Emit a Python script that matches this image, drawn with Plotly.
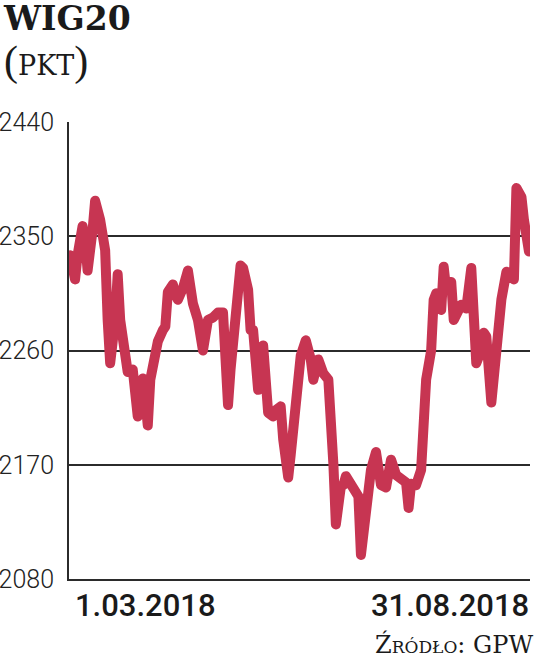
import plotly.graph_objects as go

dates = [
    "2018-03-01", "2018-03-03", "2018-03-04", "2018-03-06", "2018-03-07", "2018-03-08",
    "2018-03-10", "2018-03-11", "2018-03-13", "2018-03-15", "2018-03-16", "2018-03-17",
    "2018-03-19", "2018-03-20", "2018-03-21", "2018-03-23", "2018-03-24", "2018-03-26",
    "2018-03-28", "2018-03-29", "2018-03-30", "2018-03-31", "2018-04-01", "2018-04-02",
    "2018-04-04", "2018-04-05", "2018-04-07", "2018-04-08", "2018-04-09", "2018-04-11",
    "2018-04-12", "2018-04-13", "2018-04-15", "2018-04-17", "2018-04-19", "2018-04-21",
    "2018-04-23", "2018-04-25", "2018-04-27", "2018-04-28", "2018-04-29", "2018-05-01",
    "2018-05-03", "2018-05-04", "2018-05-06", "2018-05-08", "2018-05-09", "2018-05-11",
    "2018-05-12", "2018-05-13", "2018-05-15", "2018-05-17", "2018-05-19", "2018-05-21",
    "2018-05-22", "2018-05-24", "2018-05-25", "2018-05-27", "2018-05-28", "2018-05-30",
    "2018-06-01", "2018-06-03", "2018-06-05", "2018-06-06", "2018-06-08", "2018-06-10",
    "2018-06-12", "2018-06-14", "2018-06-15", "2018-06-17", "2018-06-18", "2018-06-19",
    "2018-06-21", "2018-06-22", "2018-06-24", "2018-06-25", "2018-06-27", "2018-06-29",
    "2018-07-01", "2018-07-03", "2018-07-05", "2018-07-07", "2018-07-09", "2018-07-11",
    "2018-07-13", "2018-07-14", "2018-07-15", "2018-07-17", "2018-07-19", "2018-07-21",
    "2018-07-23", "2018-07-24", "2018-07-25", "2018-07-27", "2018-07-28", "2018-07-29",
    "2018-07-31", "2018-08-01", "2018-08-03", "2018-08-04", "2018-08-06", "2018-08-08",
    "2018-08-10", "2018-08-12", "2018-08-13", "2018-08-14", "2018-08-16", "2018-08-17",
    "2018-08-19", "2018-08-20", "2018-08-22", "2018-08-23", "2018-08-25", "2018-08-26",
    "2018-08-28", "2018-08-29", "2018-08-31",
]

wig20 = [
    2335, 2316, 2335, 2358, 2347, 2323,
    2355, 2378, 2363, 2339, 2284, 2250,
    2284, 2320, 2284, 2260, 2243, 2245,
    2208, 2225, 2238, 2221, 2201, 2237,
    2256, 2267, 2276, 2279, 2306, 2312,
    2304, 2300, 2309, 2323, 2297, 2284,
    2260, 2284, 2286, 2290, 2290, 2290,
    2217, 2245, 2290, 2327, 2325, 2308,
    2276, 2276, 2229, 2264, 2211, 2208,
    2213, 2216, 2190, 2160, 2178, 2211,
    2256, 2268, 2253, 2237, 2253, 2242,
    2237, 2171, 2123, 2153, 2154, 2161,
    2154, 2153, 2145, 2099, 2134, 2166,
    2180, 2154, 2152, 2174, 2162, 2160,
    2156, 2136, 2155, 2154, 2166, 2237,
    2260, 2300, 2305, 2292, 2326, 2308,
    2314, 2284, 2295, 2296, 2293, 2325,
    2250, 2260, 2274, 2271, 2219, 2245,
    2272, 2300, 2322, 2320, 2316, 2388,
    2381, 2363, 2338,
]

y_ticks = [2080, 2170, 2260, 2350, 2440]
x_label_dates = ["2018-03-01", "2018-08-31"]
x_labels = ["1.03.2018", "31.08.2018"]
title = "WIG20"
unit = "PKT"
source = "Źródło: GPW"

LINE = "#C73552"
DARK = "#2b2b2b"

fig = go.Figure()
fig.add_trace(go.Scatter(
    x=dates, y=wig20, mode="lines",
    line=dict(color=LINE, width=10),
    hoverinfo="skip", showlegend=False,
))

L, R, T, B = 69, 6, 122, 81
W, H = 536, 660
pw, ph = W - L - R, H - T - B

def px(xp):
    return (xp - L) / pw

def py(yp):
    return (H - B - yp) / ph

fig.update_layout(
    width=W, height=H,
    margin=dict(l=L, r=R, t=T, b=B, pad=0, autoexpand=False),
    paper_bgcolor="white", plot_bgcolor="white",
    xaxis=dict(
        type="date", automargin=False,
        range=["2018-02-28 14:00", "2018-08-31 10:00"],
        showgrid=False, zeroline=False, showticklabels=False,
        showline=True, linecolor=DARK, linewidth=1.5, ticks="",
    ),
    yaxis=dict(
        automargin=False,
        range=[y_ticks[0], y_ticks[-1]],
        tickvals=y_ticks, ticktext=[str(v) for v in y_ticks],
        showgrid=True, gridcolor=DARK, gridwidth=1.5,
        zeroline=False, showline=True, linecolor=DARK, linewidth=2,
        ticks="", ticklabelstandoff=8,
        tickfont=dict(family="Roboto", size=25, color="#222", weight=300),
    ),
)

paren = "<span style='font-family:Liberation Serif;font-size:42px'>{}</span>"
header = (f"<span style='font-size:33px'><b>{title}</b></span><br>"
          f"<span style='font-size:27px'>{paren.format('(')}{unit}{paren.format(')')}</span>")

annotations = [
    dict(text=header, x=px(1), y=py(-3), xref="paper", yref="paper",
         xanchor="left", yanchor="top", align="left", showarrow=False,
         font=dict(family="DejaVu Serif", size=34.5, color="#1a1a1a")),
    dict(text=source, x=px(535), y=py(661), xref="paper", yref="paper",
         xanchor="right", yanchor="bottom", showarrow=False,
         font=dict(family="DejaVu Serif", size=24, color="#1a1a1a", variant="small-caps")),
]
for d, lab, anc in zip(x_label_dates, x_labels, ["left", "right"]):
    annotations.append(dict(
        text=lab, x=d, y=py(585), xref="x", yref="paper",
        xanchor=anc, yanchor="top", showarrow=False,
        xshift=3 if anc == "left" else 2,
        font=dict(family="Roboto", size=31, color="#1a1a1a", weight=500),
    ))
fig.update_layout(annotations=annotations)

post = """
document.body.style.margin = '0';
var st = document.createElement('style');
st.textContent = '.scatterlayer .js-line{stroke-linejoin:round !important;stroke-linecap:round !important;}';
document.head.appendChild(st);
"""
fig.write_html("out.html", post_script=post, config={"displayModeBar": False})
